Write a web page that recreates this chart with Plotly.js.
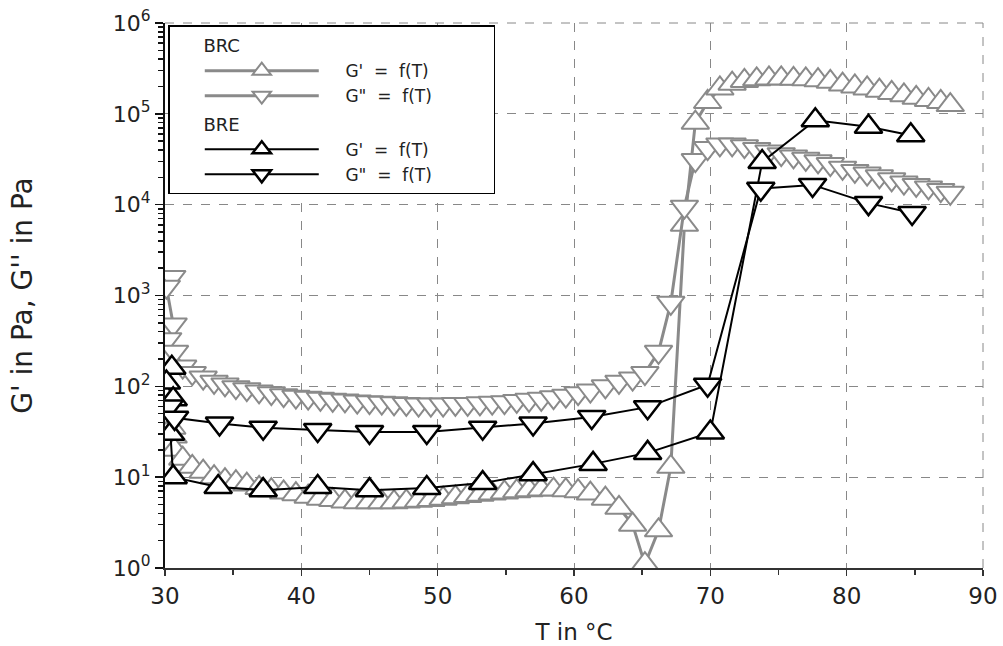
<!DOCTYPE html>
<html>
<head>
<meta charset="utf-8">
<script src="https://cdn.plot.ly/plotly-3.0.1.min.js"></script>
<style>html,body{margin:0;padding:0;background:#fff;}#chart{width:1003px;height:646px;}</style>
</head>
<body>
<div id="chart"></div>
<script>
// ---- BRC (gray) ----
const brcT = [30.5, 30.1, 30.6, 30.2, 30.7, 31.3, 32.0, 32.8, 33.6, 34.4, 35.2, 36.0, 36.9, 37.8, 38.7, 39.6, 40.5, 41.4, 42.3, 43.2, 44.1, 45.0, 45.9, 46.8, 47.7, 48.6, 49.5, 50.4, 51.3, 52.2, 53.1, 54.0, 54.9, 55.8, 56.7, 57.6, 58.5, 59.4, 60.3, 61.2, 62.3, 63.3, 64.3, 65.2, 66.2, 67.1, 68.1, 68.9, 69.8, 70.7, 71.6, 72.5, 73.4, 74.3, 75.2, 76.1, 77.0, 77.9, 78.8, 79.7, 80.6, 81.5, 82.4, 83.3, 84.2, 85.1, 86.0, 86.9, 87.6];
const brcG1 = [35, 30, 28, 24, 20, 16, 13, 11.5, 10, 9.3, 8.8, 8.3, 7.6, 7.2, 6.8, 6.5, 6.1, 5.8, 5.6, 5.4, 5.3, 5.3, 5.3, 5.3, 5.4, 5.5, 5.6, 5.8, 6.0, 6.2, 6.4, 6.6, 6.8, 7.0, 7.2, 7.3, 7.3, 7.2, 7.0, 6.6, 5.8, 4.6, 3.0, 1.1, 2.6, 13, 6000, 80000, 135000, 190000, 215000, 230000, 240000, 245000, 245000, 243000, 240000, 235000, 225000, 210000, 200000, 190000, 180000, 170000, 160000, 150000, 142000, 135000, 125000];
const brcG2 = [1600, 1250, 480, 330, 240, 165, 140, 125, 112, 105, 98, 93, 88, 84, 80, 77, 75, 73, 71, 70, 68, 67, 66, 65, 64, 63, 63, 63, 64, 64, 65, 66, 67, 69, 71, 73, 76, 79, 84, 90, 100, 112, 122, 140, 240, 830, 9500, 31000, 42000, 46000, 46000, 44000, 41000, 38500, 36000, 34000, 32000, 30000, 28000, 25500, 23500, 22000, 20500, 19000, 17500, 16500, 15500, 14500, 13500];

// ---- BRE (black) ----
const breT1 = [30.5, 30.1, 30.6, 30.4, 30.6, 33.9, 37.2, 41.2, 45.0, 49.2, 53.3, 57.0, 61.4, 65.4, 70.0, 73.8, 77.7, 81.6, 84.7];
const breG1 = [160, 110, 72, 30, 10, 7.8, 7.2, 7.8, 7.2, 7.6, 8.6, 10.8, 14, 18.5, 31, 29500, 85000, 72000, 58000];
const breT2 = [30.3, 30.7, 34.0, 37.2, 41.2, 45.0, 49.2, 53.3, 57.0, 61.3, 65.4, 69.8, 73.7, 77.5, 81.6, 84.8];
const breG2 = [60, 45, 39, 35, 33, 31.5, 31.5, 35, 39, 46, 59, 104, 15000, 16500, 10400, 8100];

// ---- axes / labels ----
const yTickVals = [1, 10, 100, 1000, 10000, 100000, 1000000];
const yTickText = ['10<sup>0</sup>', '10<sup>1</sup>', '10<sup>2</sup>', '10<sup>3</sup>', '10<sup>4</sup>', '10<sup>5</sup>', '10<sup>6</sup>'];
const xTickVals = [30, 40, 50, 60, 70, 80, 90];
const xTickText = ['30', '40', '50', '60', '70', '80', '90'];
const groupNames = ['BRC', 'BRE'];
const seriesNames = ["G' = f(T)", 'G" = f(T)'];

const GRAY = '#8a8a8a';
const SP = '\u00a0';
function legText(s, trail) {
  return SP.repeat(4) + s.replace(' = ', SP + SP + '=' + SP + SP) + SP.repeat(trail || 0);
}
const grpTitle = s => SP.repeat(5) + s;

const yMinor = [];
for (let e = 0; e < 6; e++) for (let d = 2; d <= 9; d++) yMinor.push(d * Math.pow(10, e));

const traces = [
  {x: brcT, y: brcG1, name: legText(seriesNames[0], 11), legendgroup: 'BRC', legendgrouptitle: {text: grpTitle(groupNames[0])},
   mode: 'lines+markers', line: {color: GRAY, width: 3},
   marker: {symbol: 'triangle-up', size: 24, color: 'white', line: {color: GRAY, width: 2}}},
  {x: brcT, y: brcG2, name: legText(seriesNames[1]), legendgroup: 'BRC', legendgrouptitle: {text: grpTitle(groupNames[0])},
   mode: 'lines+markers', line: {color: GRAY, width: 3},
   marker: {symbol: 'triangle-down', size: 24, color: 'white', line: {color: GRAY, width: 2}}},
  {x: breT1, y: breG1, name: legText(seriesNames[0]), legendgroup: 'BRE', legendgrouptitle: {text: grpTitle(groupNames[1])},
   mode: 'lines+markers', line: {color: 'black', width: 2},
   marker: {symbol: 'triangle-up', size: 24, color: 'white', line: {color: 'black', width: 2.5}}},
  {x: breT2, y: breG2, name: legText(seriesNames[1]), legendgroup: 'BRE', legendgrouptitle: {text: grpTitle(groupNames[1])},
   mode: 'lines+markers', line: {color: 'black', width: 2},
   marker: {symbol: 'triangle-down', size: 24, color: 'white', line: {color: 'black', width: 2.5}}}
];

const FONT = 'DejaVu Sans, sans-serif';
const layout = {
  width: 1003, height: 646,
  margin: {l: 165, r: 20, t: 23, b: 78},
  paper_bgcolor: 'white', plot_bgcolor: 'white',
  font: {family: FONT, color: '#222'},
  showlegend: true,
  legend: {x: 0.004, y: 0.996, xanchor: 'left', yanchor: 'top', bgcolor: 'white', bordercolor: 'black', borderwidth: 1.5,
           font: {size: 17, family: FONT, color: '#222'}, itemwidth: 114, indentation: 30, traceorder: 'grouped',
           tracegroupgap: 2, grouptitlefont: {size: 18, family: FONT, color: '#222'}},
  xaxis: {range: [30, 90], tickmode: 'array', tickvals: xTickVals, ticktext: xTickText,
          ticks: 'outside', ticklen: 6, tickwidth: 1.5, tickcolor: '#333',
          showline: true, linecolor: '#333', linewidth: 2, mirror: false,
          showgrid: true, gridcolor: '#888', griddash: 'dash', gridwidth: 1, zeroline: false,
          minor: {tickmode: 'array', tickvals: [35, 45, 55, 65, 75, 85], ticks: 'outside', ticklen: 5, tickcolor: '#333', showgrid: false},
          tickfont: {size: 23, family: FONT, color: '#222'},
          title: {text: 'T in °C', font: {size: 23, family: FONT, color: '#222'}, standoff: 16}},
  yaxis: {type: 'log', range: [0, 6], tickmode: 'array', tickvals: yTickVals, ticktext: yTickText,
          ticks: 'outside', ticklen: 8, tickwidth: 1.5, tickcolor: '#111',
          showline: true, linecolor: '#111', linewidth: 2, mirror: false,
          showgrid: true, gridcolor: '#888', griddash: 'dash', gridwidth: 1, zeroline: false,
          minor: {tickmode: 'array', tickvals: yMinor, ticks: 'outside', ticklen: 5, tickcolor: '#111', showgrid: false},
          tickfont: {size: 22, family: FONT, color: '#222'},
          title: {text: "G' in Pa, G'' in Pa", font: {size: 28, family: FONT, color: '#222'}, standoff: 72}},
  shapes: [
    {type: 'line', xref: 'paper', yref: 'paper', x0: 0, x1: 1, y0: 1, y1: 1, line: {color: '#888', width: 1, dash: 'dash'}},
    {type: 'line', xref: 'paper', yref: 'paper', x0: 1, x1: 1, y0: 0, y1: 1, line: {color: '#888', width: 1, dash: 'dash'}}
  ]
};

Plotly.newPlot('chart', traces, layout, {staticPlot: true, displayModeBar: false});
</script>
</body>
</html>
